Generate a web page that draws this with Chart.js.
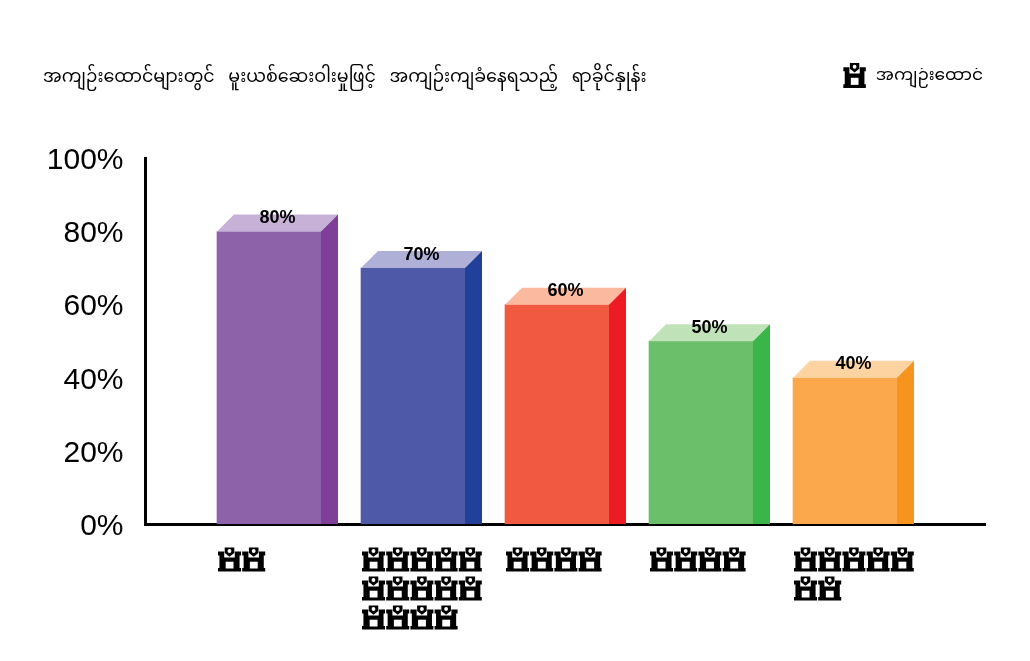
<!DOCTYPE html>
<html><head><meta charset="utf-8">
<style>html,body{margin:0;padding:0;background:#fff}canvas{display:block}</style>
<script src="https://cdn.jsdelivr.net/npm/chart.js@4"></script>
</head><body>
<canvas id="c" width="1030" height="661"></canvas>
<script>
const titleText = 'အကျဉ်းထောင်များတွင်   မူးယစ်ဆေးဝါးမှုဖြင့်   အကျဉ်းကျခံနေရသည့်   ရာခိုင်နှုန်း';
const legendText = 'အကျဉ်းထောင်';
const positions = [1, 2, 3, 4, 5];
const prisonCounts = [2, 14, 4, 4, 7];
const percentValues = [80, 70, 60, 50, 40];
const yTicks = [0, 20, 40, 60, 80, 100];
const frontColors = ['#8E62A8', '#4E5AA8', '#F15A40', '#6CBF6A', '#FBA74C'];
const sideColors = ['#7F3F98', '#21409A', '#ED1C24', '#39B54A', '#F7941D'];
const topColors = ['#C7B1D6', '#AEB0D8', '#FBB9A0', '#C0E2B8', '#FDD4A1'];
const MM = '"Noto Sans Myanmar","Padauk","Myanmar Text","Noto Sans","DejaVu Sans",sans-serif';
const DEPTH = 17;

function drawPrison(ctx, x, y, w, h) {
  ctx.save(); ctx.translate(x, y); ctx.scale(w / 24, h / 24);
  ctx.fillStyle = '#000';
  ctx.beginPath();
  ctx.moveTo(0,4); ctx.lineTo(6.5,4); ctx.lineTo(6.5,10); ctx.lineTo(17.5,10); ctx.lineTo(17.5,4); ctx.lineTo(24,4);
  ctx.lineTo(24,8); ctx.lineTo(22.5,8); ctx.lineTo(22.5,20.5); ctx.lineTo(24,20.5); ctx.lineTo(24,24);
  ctx.lineTo(0,24); ctx.lineTo(0,20.5); ctx.lineTo(1.5,20.5); ctx.lineTo(1.5,8); ctx.lineTo(0,8);
  ctx.closePath(); ctx.fill();
  ctx.fillStyle = '#fff'; ctx.fillRect(8, 14.2, 8.2, 6.8);
  ctx.fillStyle = '#000';
  ctx.beginPath(); ctx.moveTo(7,0); ctx.lineTo(17,0); ctx.lineTo(17,5.5); ctx.lineTo(12,9.2); ctx.lineTo(7,5.5); ctx.closePath(); ctx.fill();
  ctx.fillStyle = '#fff';
  ctx.beginPath(); ctx.arc(12, 3.6, 2, 0, Math.PI * 2); ctx.fill();
  ctx.restore();
}

const bars3d = {
  id: 'bars3d',
  afterDatasetsDraw(chart) {
    const ctx = chart.ctx, meta = chart.getDatasetMeta(0);
    meta.data.forEach((bar, i) => {
      const p = bar.getProps(['x', 'y', 'base', 'width'], true);
      const l = p.x - p.width / 2, r = p.x + p.width / 2;
      ctx.fillStyle = topColors[i];
      ctx.beginPath(); ctx.moveTo(l, p.y); ctx.lineTo(l + DEPTH, p.y - DEPTH); ctx.lineTo(r + DEPTH, p.y - DEPTH); ctx.lineTo(r, p.y); ctx.closePath(); ctx.fill();
      ctx.fillStyle = sideColors[i];
      ctx.beginPath(); ctx.moveTo(r, p.y); ctx.lineTo(r + DEPTH, p.y - DEPTH); ctx.lineTo(r + DEPTH, p.base); ctx.lineTo(r, p.base); ctx.closePath(); ctx.fill();
      ctx.fillStyle = '#000'; ctx.font = 'bold 18px "Liberation Sans"'; ctx.textAlign = 'center'; ctx.textBaseline = 'middle';
      ctx.fillText(percentValues[i] + '%', p.x + DEPTH / 2, p.y - DEPTH / 2 - 5);
      const perRow = 5, pitch = 24.2, rowPitch = 29;
      for (let k = 0; k < prisonCounts[i]; k++) {
        drawPrison(ctx, l + 1 + (k % perRow) * pitch, p.base + 23.5 + Math.floor(k / perRow) * rowPitch, 23, 24);
      }
    });
  },
  afterDraw(chart) {
    const hit = chart.legend.legendHitBoxes[0];
    drawPrison(chart.ctx, hit.left + 3, chart.legend.top - 5, 22.5, 25);
  }
};

new Chart(document.getElementById('c'), {
  type: 'bar',
  data: { datasets: [{
    label: legendText,
    data: positions.map((x, i) => ({ x, y: percentValues[i] })),
    backgroundColor: frontColors,
    barThickness: 104,
    borderWidth: 0
  }] },
  plugins: [bars3d],
  options: {
    responsive: false, animation: false, devicePixelRatio: 1,
    layout: { padding: { left: 43, right: 45, top: 66, bottom: 137 } },
    scales: {
      x: { type: 'linear', offset: false, z: 1, min: 1 - 124 / 144, max: 1 + 716 / 144,
        grid: { display: false, drawTicks: false }, ticks: { display: false },
        border: { color: '#000', width: 3 } },
      y: { min: 0, max: 100, afterBuildTicks: s => { s.ticks = yTicks.map(value => ({ value })); },
        afterFit: s => { s.width = 102; },
        grid: { display: false, drawTicks: false },
        ticks: { color: '#000', padding: 21.5, labelOffset: 2.5, font: { family: '"Liberation Sans"', size: 30 }, callback: v => v + '%' },
        border: { color: '#000', width: 3 } }
    },
    plugins: {
      tooltip: { enabled: false },
      title: { display: true, text: titleText, align: 'start', color: '#000',
        font: { family: MM, size: 17.5, weight: 'normal', lineHeight: 1.2 }, padding: { top: 4, bottom: -23 } },
      subtitle: { display: true, text: ' ', weight: 500, font: { size: 12, lineHeight: 1.2 }, padding: { top: 0, bottom: 47 } },
      legend: { display: true, position: 'top', align: 'end',
        labels: { usePointStyle: true, pointStyleWidth: 27, color: '#000', font: { family: MM, size: 17 }, boxHeight: 24, padding: 2,
          generateLabels: () => [{ text: legendText, pointStyle: false, fillStyle: 'rgba(0,0,0,0)', strokeStyle: 'rgba(0,0,0,0)', lineWidth: 0, fontColor: '#000' }] } }
    }
  }
});
</script></body></html>
